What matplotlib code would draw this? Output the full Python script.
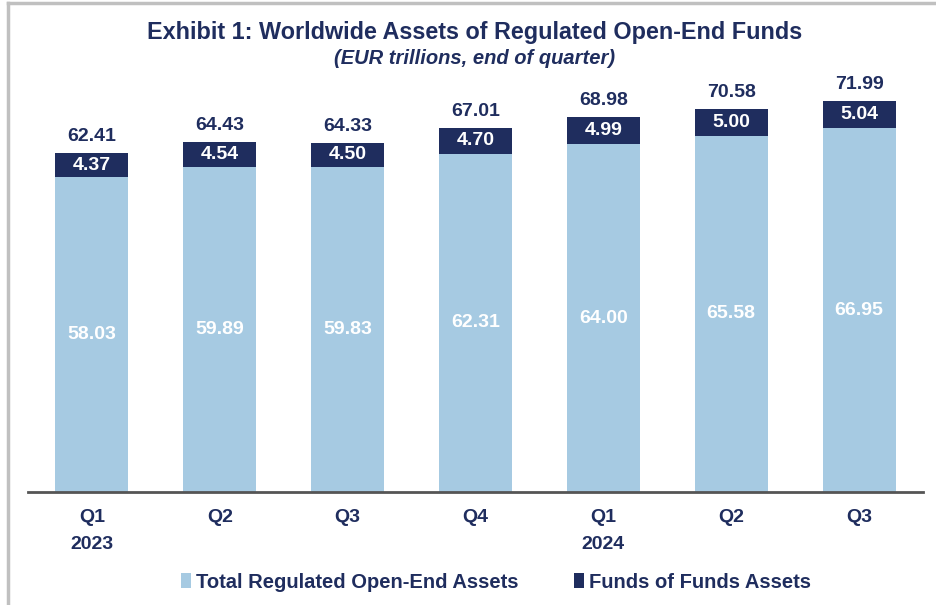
import matplotlib.pyplot as plt
from matplotlib.patches import Patch
from matplotlib.lines import Line2D

plt.rcParams['font.family'] = ['Liberation Sans', 'DejaVu Sans']

quarters = ["Q1\n2023", "Q2", "Q3", "Q4", "Q1\n2024", "Q2", "Q3"]
total_regulated = [58.03, 59.89, 59.83, 62.31, 64.00, 65.58, 66.95]
funds_of_funds = [4.37, 4.54, 4.50, 4.70, 4.99, 5.00, 5.04]
totals = [62.41, 64.43, 64.33, 67.01, 68.98, 70.58, 71.99]

light = "#a6cae2"
navy = "#1f2d5e"

fig = plt.figure(figsize=(9.36, 6.05), dpi=100)
ax = fig.add_axes([28 / 936, 113 / 605, 895 / 936, 434.4 / 605])

x = range(len(quarters))
w = 0.57
ax.bar(x, total_regulated, width=w, color=light)
ax.bar(x, funds_of_funds, width=w, bottom=total_regulated, color=navy)

for i in x:
    ax.text(i, total_regulated[i] / 2, f"{total_regulated[i]:.2f}", ha="center", va="center",
            color="white", fontsize=14, fontweight="bold")
    ax.text(i, total_regulated[i] + funds_of_funds[i] / 2, f"{funds_of_funds[i]:.2f}",
            ha="center", va="center", color="white", fontsize=14, fontweight="bold")
    ax.annotate(f"{totals[i]:.2f}", (i, total_regulated[i] + funds_of_funds[i]),
                xytext=(0, 12), textcoords="offset points", ha="center", va="center",
                color=navy, fontsize=14, fontweight="bold")

ax.set_xlim(-0.5, len(quarters) - 0.5)
ax.set_ylim(0, 80)
ax.set_yticks([])
ax.set_xticks(list(x))
ax.set_xticklabels(quarters, fontsize=14, fontweight="bold", color=navy, linespacing=1.8)
ax.tick_params(axis="x", length=0, pad=12)
for s in ["top", "right", "left"]:
    ax.spines[s].set_visible(False)
ax.spines["bottom"].set_color("#555555")
ax.spines["bottom"].set_linewidth(2)

fig.text(475 / 936, 1 - 32 / 605, "Exhibit 1: Worldwide Assets of Regulated Open-End Funds",
         ha="center", va="center", fontsize=16.8, fontweight="bold", color=navy)
fig.text(475 / 936, 1 - 58 / 605, "(EUR trillions, end of quarter)",
         ha="center", va="center", fontsize=14.5, fontweight="bold", style="italic", color=navy)

handles = [Patch(facecolor=light), Patch(facecolor=navy)]
fig.legend(handles, ["Total Regulated Open-End Assets", "Funds of Funds Assets"],
           loc="center", bbox_to_anchor=(496 / 936, 1 - 582 / 605), ncol=2, frameon=False,
           handlelength=0.45, handleheight=0.8, handletextpad=0.25, columnspacing=2.8,
           prop={"size": 14.5, "weight": "bold"}, labelcolor=navy)

# grey frame (top and left edges visible)
fig.add_artist(Line2D([8 / 936, 8 / 936], [0, 1 - 3 / 605], transform=fig.transFigure,
                      color="#c0c0c0", linewidth=2.5))
fig.add_artist(Line2D([8 / 936, 1], [1 - 3 / 605, 1 - 3 / 605], transform=fig.transFigure,
                      color="#c0c0c0", linewidth=2.5))

fig.savefig("out.png", dpi=100)
